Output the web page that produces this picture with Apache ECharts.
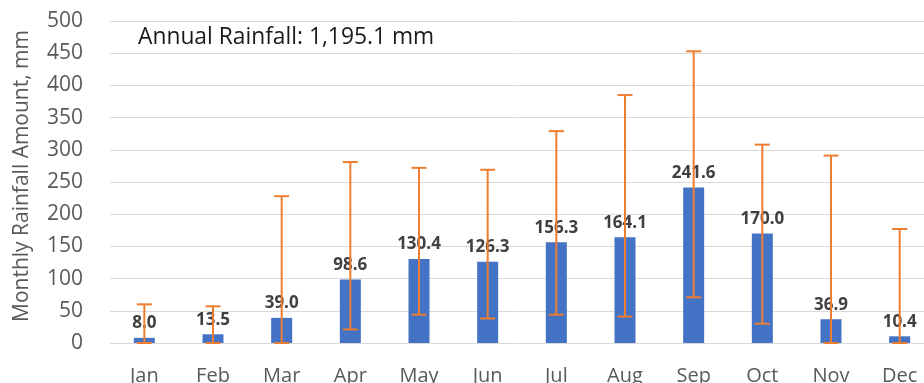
<!DOCTYPE html>
<html>
<head>
<meta charset="utf-8">
<script src="https://cdn.jsdelivr.net/npm/echarts@6/dist/echarts.min.js"></script>
<style>html,body{margin:0;padding:0;background:#fff}#c{width:924px;height:383px}</style>
</head>
<body>
<div id="c"></div>
<script>
var months = ['Jan','Feb','Mar','Apr','May','Jun','Jul','Aug','Sep','Oct','Nov','Dec'];
var rainfall = [8.0, 13.5, 39.0, 98.6, 130.4, 126.3, 156.3, 164.1, 241.6, 170.0, 36.9, 10.4];
var errLow = [0, 0, 0, 21, 44, 38, 44, 41, 71, 30, 0, 0];
var errHigh = [60, 57, 228, 281, 272, 269, 329, 385, 453, 308, 291, 177];
var yTicks = {min: 0, max: 500, interval: 50};
var annotation = 'Annual Rainfall: 1,195.1 mm';
var yName = 'Monthly Rainfall Amount, mm';

var errData = months.map(function (m, i) { return [i, errLow[i], errHigh[i]]; });
var FONT = '"Open Sans", "Noto Sans", sans-serif';

var chart = echarts.init(document.getElementById('c'));
chart.setOption({
  animation: false,
  textStyle: {fontFamily: FONT},
  title: {
    text: annotation, left: 133, top: 21,
    textStyle: {fontFamily: FONT, fontSize: 22.8, fontWeight: 'normal', color: '#1a1a1a'}
  },
  graphic: [{
    type: 'text', x: 22, y: 176, rotation: Math.PI / 2,
    style: {text: yName, fontFamily: FONT, fontSize: 21, fill: '#595959', align: 'center', verticalAlign: 'middle'}
  }],
  grid: {left: 110, top: 21, bottom: 40, width: 824, outerBoundsMode: 'none'},
  xAxis: {
    type: 'category', data: months,
    axisLine: {show: false}, axisTick: {show: false},
    axisLabel: {fontFamily: FONT, fontSize: 20, color: '#595959', margin: 23}
  },
  yAxis: {
    type: 'value', min: yTicks.min, max: yTicks.max, interval: yTicks.interval,
    axisLine: {show: false}, axisTick: {show: false},
    axisLabel: {fontFamily: FONT, fontSize: 21, color: '#595959', margin: 27},
    splitLine: {lineStyle: {color: '#d9d9d9', width: 1}}
  },
  series: [
    {
      type: 'bar', data: rainfall, barWidth: 21,
      itemStyle: {color: '#4472C4'},
      label: {
        show: true, position: 'top', distance: 6,
        formatter: function (p) { return p.value.toFixed(1); },
        fontFamily: FONT, fontSize: 17, fontWeight: 'bold', color: '#404040'
      },
      z: 2
    },
    {
      type: 'custom', data: errData, z: 3,
      encode: {x: 0, y: [1, 2]},
      renderItem: function (params, api) {
        var x = api.value(0);
        var lo = api.coord([x, api.value(1)]);
        var hi = api.coord([x, api.value(2)]);
        var half = 7.5;
        var style = {stroke: '#ED7D31', lineWidth: 2};
        return {
          type: 'group',
          children: [
            {type: 'line', shape: {x1: lo[0], y1: lo[1], x2: hi[0], y2: hi[1]}, style: style},
            {type: 'line', shape: {x1: hi[0] - half, y1: hi[1], x2: hi[0] + half, y2: hi[1]}, style: style},
            {type: 'line', shape: {x1: lo[0] - half, y1: lo[1], x2: lo[0] + half, y2: lo[1]}, style: style}
          ]
        };
      }
    }
  ]
});
</script>
</body>
</html>
